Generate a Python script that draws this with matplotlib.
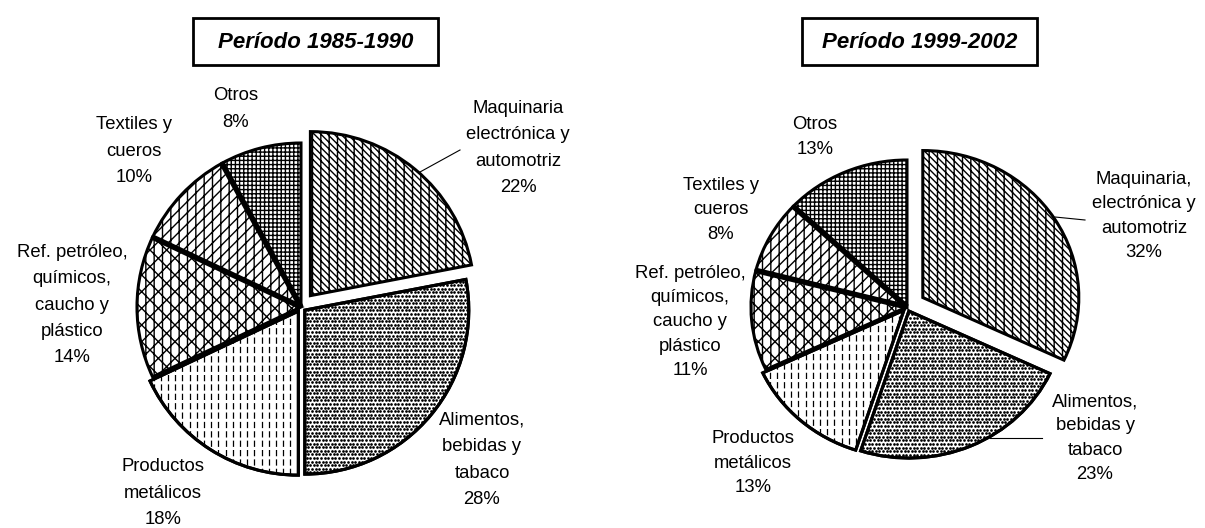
import matplotlib
matplotlib.use("Agg")
import numpy as np
import matplotlib.pyplot as plt
import matplotlib.patches as mpatches

plt.rcParams["font.family"] = ["Liberation Sans", "DejaVu Sans"]
plt.rcParams["hatch.linewidth"] = 1.0

W_PX, H_PX = 1205, 528

# Sector shares (%), clockwise from 12 o'clock
sectors_a = ["Maquinaria\nelectrónica y\nautomotriz", "Alimentos,\nbebidas y\ntabaco",
             "Productos\nmetálicos", "Ref. petróleo,\nquímicos,\ncaucho y\nplástico",
             "Textiles y\ncueros", "Otros"]
shares_a = [22, 28, 18, 14, 10, 8]

sectors_b = ["Maquinaria,\nelectrónica y\nautomotriz", "Alimentos,\nbebidas y\ntabaco",
             "Productos\nmetálicos", "Ref. petróleo,\nquímicos,\ncaucho y\nplástico",
             "Textiles y\ncueros", "Otros"]
shares_b = [32, 23, 13, 11, 8, 13]

titles = ["Período 1985-1990", "Período 1999-2002"]

# fills per sector; Alimentos and Productos get textures drawn by hand below
hatches = ["\\\\\\\\\\||", None, None, "xx||", "///||", "++++"]

fig = plt.figure(figsize=(W_PX / 100, H_PX / 100), dpi=100)
bg = fig.add_axes([0, 0, 1, 1])
bg.set_xlim(0, W_PX)
bg.set_ylim(H_PX, 0)
bg.axis("off")


def pie_axes(cx, cy, rx, ry, lim=1.25):
    # axes placed in pixel space so the unit pie lands on (cx, cy)
    w, h = rx * lim, ry * lim
    ax = fig.add_axes([(cx - w) / W_PX, 1 - (cy + h) / H_PX, 2 * w / W_PX, 2 * h / H_PX])
    return ax, lim


def edge_line(ax, w, theta, lw):
    t = np.deg2rad(theta)
    cx, cy = w.center
    ax.plot([cx, cx + w.r * np.cos(t)], [cy, cy + w.r * np.sin(t)],
            color="black", linewidth=lw, solid_capstyle="butt", zorder=3)


def draw_pie(cx, cy, rx, ry, shares, explode):
    ax, lim = pie_axes(cx, cy, rx, ry)
    wedges, _ = ax.pie(shares, startangle=90, counterclock=False, explode=explode,
                       colors=["white"] * len(shares),
                       wedgeprops=dict(edgecolor="black", linewidth=2.2, zorder=1))
    for w, h in zip(wedges, hatches):
        if h:
            w.set_hatch(h)

    # dotted texture (Alimentos)
    step_x, step_y = 3.6 / rx, 3.6 / ry
    gx = np.arange(-lim, lim, step_x)
    gy = np.arange(-lim, lim, step_y)
    X, Y = np.meshgrid(gx, gy)
    X[1::2] += step_x / 2
    ax.scatter(X.ravel(), Y.ravel(), s=3.8, c="black", linewidths=0,
               clip_path=wedges[1], zorder=2)

    # dashed vertical texture (Productos)
    vx = np.arange(-lim, lim, 7.2 / rx)
    ax.vlines(vx, -lim, lim, colors="black", linewidth=0.9,
              linestyles=[(0, (5.0, 2.5))], clip_path=wedges[2], zorder=2)

    # redraw outlines over the textures
    for i in (1, 2):
        w = wedges[i]
        ax.add_patch(mpatches.Wedge(w.center, w.r, w.theta1, w.theta2, fill=False,
                                    edgecolor="black", linewidth=2.2, zorder=3))
    # heavier radial borders around Textiles
    tex = wedges[4]
    edge_line(ax, tex, tex.theta1, 4.0)
    edge_line(ax, tex, tex.theta2, 4.0)

    ax.set_aspect("auto")
    ax.set_xlim(-lim, lim)
    ax.set_ylim(-lim, lim)
    ax.axis("off")
    return ax


draw_pie(301, 307, 164, 164, shares_a, [0.09, 0.03, 0.03, 0, 0, 0])
draw_pie(907, 307, 156, 147, shares_b, [0.12, 0.03, 0.03, 0, 0, 0])

# title boxes
for (x0, x1), t in zip([(193, 438), (802, 1037)], titles):
    bg.add_patch(mpatches.Rectangle((x0, 18), x1 - x0, 47, fill=False,
                                    edgecolor="black", linewidth=2))
    bg.text((x0 + x1) / 2, 42, t, ha="center", va="center", fontsize=16,
            fontweight="bold", fontstyle="italic")

# label anchors (centre of the text block)
pos_a = [(518, 148), (482, 460), (163, 493), (72, 305), (134, 151), (236, 109)]
pos_b = [(1144, 216), (1095, 438), (753, 463), (690, 322), (721, 210), (815, 137)]
lines_a = [(460, 150, 420, 172)]
lines_b = [(1085, 220, 1055, 217), (1042, 438, 990, 438)]

for pos, names, shares, ls in [(pos_a, sectors_a, shares_a, 1.72),
                               (pos_b, sectors_b, shares_b, 1.56)]:
    for (x, y), n, s in zip(pos, names, shares):
        txt = bg.text(x, y, f"{n}\n{s}%", ha="center", va="center",
                      fontsize=13.3, linespacing=ls)
        if pos is pos_a and n.startswith("Maquinaria"):
            txt.set_clip_path(mpatches.Rectangle((0, 0), 548, H_PX,
                                                 transform=bg.transData))

for x0, y0, x1, y1 in lines_a + lines_b:
    bg.plot([x0, x1], [y0, y1], color="black", linewidth=0.8)

fig.savefig("out.png", dpi=100)
